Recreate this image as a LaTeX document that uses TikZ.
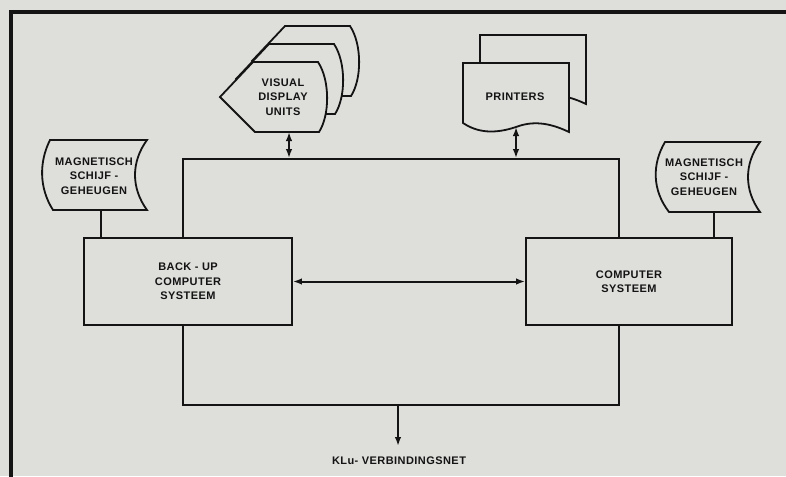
\documentclass[tikz,border=0pt]{standalone}
\usepackage{fontspec}
\setmainfont{Liberation Sans}
\usetikzlibrary{arrows.meta}
\definecolor{paper}{RGB}{222,222,219}
\definecolor{ink}{RGB}{20,20,20}
\tikzset{
  lbl/.style={font=\bfseries\fontsize{11}{14.5}\selectfont\addfontfeature{LetterSpace=4}, text=ink, align=center, inner sep=1pt},
  boxed/.style={draw=ink, fill=paper, line width=1.8pt},
  conn/.style={draw=ink, line width=2pt},
  dbl/.style={{Latex[length=9pt,width=6.5pt]}-{Latex[length=9pt,width=6.5pt]}},
  sgl/.style={-{Latex[length=9pt,width=6.5pt]}},
  pics/vdushape/.style={code={
    \path[boxed] (220,97) -- (253,62) -- (318,62) .. controls (330,80) and (330,115) .. (319,132) -- (255,132) -- cycle;
  }},
  pics/docshape/.style={code={
    \path[boxed] (463,63) -- (569,63) -- (569,132) .. controls (548,122) and (532,121) .. (516,127) .. controls (495,134) and (478,133) .. (463,123) -- cycle;
  }}
}
\begin{document}
\begin{tikzpicture}[x=1pt,y=-1pt]
\useasboundingbox (0,0) rectangle (786,476);
\fill[paper] (0,0) rectangle (786,476);
% outer frame
\draw[ink, line width=4pt, line join=miter] (11,480) -- (11,12) -- (790,12);

% central enclosure
\node[boxed, minimum width=436pt, minimum height=246pt, inner sep=0pt] (host) at (401,282) {};

% back-up and computer systems
\node[boxed, lbl, minimum width=208pt, minimum height=87pt] (backup) at (188,281.5) {BACK - UP\\COMPUTER\\SYSTEEM};
\node[boxed, lbl, minimum width=206pt, minimum height=87pt] (computer) at (629,281.5) {COMPUTER\\SYSTEEM};
\draw[conn, dbl] (backup.east) -- (computer.west);

% left magnetic disk
\path[boxed] (50,140) -- (147,140) .. controls (131,162) and (131,188) .. (147,210) -- (53,210) .. controls (39,188) and (39,162) .. (50,140) -- cycle;
\node[lbl] (ldisk) at (94,176) {MAGNETISCH\\SCHIJF -\\GEHEUGEN};
\coordinate (ldisks) at (101,210);
\draw[conn] (ldisks) -- (ldisks |- backup.north);

% right magnetic disk
\path[boxed] (665,142) -- (760,142) .. controls (744,164) and (744,190) .. (760,212) -- (669,212) .. controls (652,190) and (652,164) .. (665,142) -- cycle;
\node[lbl] (rdisk) at (704,177) {MAGNETISCH\\SCHIJF -\\GEHEUGEN};
\coordinate (rdisks) at (714,212);
\draw[conn] (rdisks) -- (rdisks |- computer.north);

% visual display units
\pic at (32,-36) {vdushape};
\pic at (16,-18) {vdushape};
\pic at (0,0) {vdushape};
\node[lbl] (vdu) at (283,97) {VISUAL\\DISPLAY\\UNITS};
\coordinate (vdus) at (289,132);
\draw[conn, dbl] (vdus) -- (vdus |- host.north);

% printers
\pic at (17,-28) {docshape};
\pic at (0,0) {docshape};
\node[lbl] (prn) at (515,97) {PRINTERS};
\coordinate (prns) at (516,127);
\draw[conn, dbl] (prns) -- (prns |- host.north);

% KLu network
\node[lbl, anchor=base] (klu) at (399,464) {KLu- VERBINDINGSNET};
\coordinate (klutip) at (398,446);
\draw[conn, sgl] (klutip |- host.south) -- (klutip);
\end{tikzpicture}
\end{document}
